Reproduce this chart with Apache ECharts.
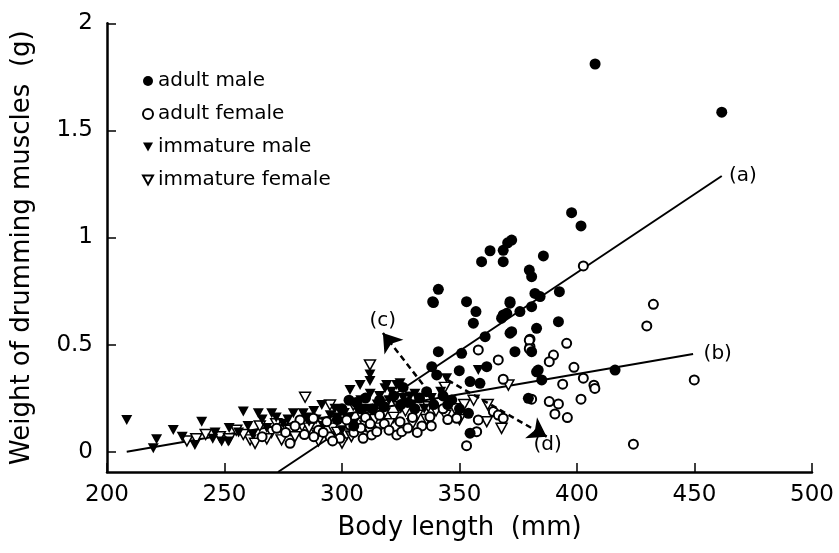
<!DOCTYPE html>
<html>
<head>
<meta charset="utf-8">
<script src="https://cdn.jsdelivr.net/npm/echarts@6/dist/echarts.min.js"></script>
<style>
  html, body { margin: 0; padding: 0; background: #fff; }
  #canvas { width: 839px; height: 553px; }
</style>
</head>
<body>
<div id="canvas"></div>
<script>
// body length (mm), muscle weight (g)
var adultMale = [
    [407.7, 1.81], [461.6, 1.585], [397.7, 1.116], [401.7, 1.054], [372.2, 0.988], [370.5, 0.975],
    [368.6, 0.94], [363, 0.938], [368.6, 0.887], [359.4, 0.887], [385.7, 0.914], [379.7, 0.848],
    [380.7, 0.817], [382.1, 0.739], [384.3, 0.724], [392.5, 0.747], [371.5, 0.70], [370.1, 0.646],
    [375.7, 0.654], [380.7, 0.677], [367.9, 0.623], [392.1, 0.607], [382.8, 0.576], [372.2, 0.56],
    [373.6, 0.467], [380.7, 0.467], [383.5, 0.381], [385, 0.335], [416.2, 0.381], [379.3, 0.249],
    [338.9, 0.696], [357, 0.654], [353, 0.70], [355.9, 0.6], [368.6, 0.638], [371.5, 0.693],
    [341, 0.467], [350.9, 0.459], [360.9, 0.537], [371.5, 0.553], [338.2, 0.397], [349.9, 0.378],
    [361.6, 0.397], [358.7, 0.319], [353.8, 0.179], [354.5, 0.086], [382.8, 0.373], [341, 0.758],
    [338.6, 0.70], [340.3, 0.358], [354.5, 0.327], [346.7, 0.241], [300, 0.2], [303, 0.24],
    [306, 0.23], [310, 0.25], [313, 0.2], [318, 0.21], [322, 0.26], [328, 0.23], [333, 0.25],
    [336, 0.28], [345, 0.22], [350, 0.2], [298, 0.15], [305, 0.12], [326, 0.3], [308, 0.2],
    [316, 0.24], [325, 0.22], [331, 0.2], [339, 0.22], [343, 0.26]
];
var adultFemale = [
    [402.7, 0.867], [432.5, 0.688], [429.7, 0.587], [395.6, 0.506], [380, 0.525], [380, 0.49],
    [390, 0.451], [388.2, 0.42], [398.7, 0.394], [402.7, 0.343], [393.9, 0.315], [407.2, 0.31],
    [407.6, 0.295], [449.9, 0.335], [401.7, 0.245], [388.2, 0.234], [392.1, 0.223], [390.6, 0.176],
    [395.9, 0.159], [380.7, 0.245], [424, 0.035], [368.6, 0.338], [366.5, 0.428], [358, 0.475],
    [379.7, 0.52], [379.7, 0.48], [364.4, 0.187], [366.5, 0.171], [368.6, 0.156], [358, 0.148],
    [357.3, 0.093], [353, 0.028], [348.8, 0.156], [337.4, 0.163], [324.7, 0.14], [323.3, 0.078],
    [325.4, 0.093], [277.9, 0.039], [294.9, 0.07], [299.1, 0.062], [309, 0.062], [312.6, 0.078],
    [314.8, 0.093], [303.4, 0.125], [272.2, 0.109], [282.1, 0.148], [287.8, 0.156], [293.5, 0.14],
    [302, 0.148], [318, 0.13], [330, 0.16], [334, 0.12], [343, 0.2], [290, 0.1], [284, 0.08],
    [266, 0.07], [310, 0.16], [316, 0.17], [276, 0.09], [280, 0.12], [288, 0.07], [292, 0.09],
    [296, 0.05], [305, 0.09], [308, 0.11], [312, 0.13], [320, 0.1], [328, 0.11], [332, 0.09],
    [338, 0.12], [345, 0.15]
];
var immatureMale = [
    [208.4, 0.148], [221.1, 0.058], [228.2, 0.101], [240.3, 0.14], [258, 0.187], [264.4, 0.179],
    [270.1, 0.179], [279.3, 0.179], [283.5, 0.179], [219.7, 0.016], [237.4, 0.031], [248.8, 0.047],
    [251.6, 0.047], [291.4, 0.218], [303.4, 0.288], [318.3, 0.296], [323.3, 0.311], [311.9, 0.36],
    [311.9, 0.33], [307.7, 0.311], [319, 0.311], [324.7, 0.319], [328.9, 0.257], [344.5, 0.343],
    [358, 0.381], [286, 0.14], [292, 0.12], [298, 0.16], [300, 0.10], [305, 0.13], [310, 0.2],
    [315, 0.22], [320, 0.24], [325, 0.2], [330, 0.22], [335, 0.2], [295, 0.17], [288, 0.19],
    [275, 0.13], [268, 0.11], [262, 0.08], [256, 0.09], [245, 0.06], [232, 0.07], [246, 0.09],
    [252, 0.11], [260, 0.12], [266, 0.15], [272, 0.16], [277, 0.15], [281, 0.12], [285, 0.16],
    [289, 0.15], [293, 0.14], [297, 0.2], [301, 0.18], [303, 0.16], [308, 0.24], [312, 0.27],
    [316, 0.26], [321, 0.28], [326, 0.25], [331, 0.27], [338, 0.25], [342, 0.28]
];
var immatureFemale = [
    [284.3, 0.254], [311.9, 0.405], [260.9, 0.055], [274.3, 0.055], [294.9, 0.218], [367.9, 0.109],
    [370.8, 0.311], [343.8, 0.30], [336.7, 0.21], [361.6, 0.14], [263, 0.039], [289.2, 0.086],
    [302, 0.078], [304.8, 0.218], [307.7, 0.179], [248, 0.07], [255, 0.1], [265, 0.12], [270, 0.09],
    [278, 0.1], [283, 0.12], [290, 0.05], [296, 0.11], [300, 0.04], [306, 0.1], [310, 0.12],
    [314, 0.15], [318, 0.18], [322, 0.16], [327, 0.19], [332, 0.17], [340, 0.19], [348, 0.2],
    [352, 0.22], [356, 0.24], [362, 0.22], [234, 0.05], [242, 0.08], [238, 0.06], [252, 0.06],
    [258, 0.08], [268, 0.06], [272, 0.13], [280, 0.07], [286, 0.11], [292, 0.13], [298, 0.09],
    [304, 0.07], [312, 0.09], [316, 0.11], [320, 0.13], [324, 0.21], [330, 0.13], [336, 0.15],
    [344, 0.17], [350, 0.15]
];
// regression lines (a) and (b)
var lineA = [[272.8, -0.095], [461.6, 1.287]];
var lineB = [[208.4, 0], [449.4, 0.456]];
// dashed arrows (c) and (d): [from, to]
var arrowC = [[339.6, 0.241], [317.4, 0.554]];
var arrowD = [[345, 0.334], [387.1, 0.07]];
var notes = [[470.8, 1.284, '(a)'], [460.1, 0.456, '(b)'], [317.6, 0.607, '(c)'], [387.7, 0.031, '(d)']];
var yTicks = [0, 0.5, 1, 1.5, 2];

var FONT = 'DejaVu Sans';
var downTri = 'path://M0,0 L10,0 L5,9 Z';

var myChart = echarts.init(document.getElementById('canvas'));

var option = {
    backgroundColor: '#fff',
    animation: false,
    textStyle: { fontFamily: FONT, color: '#000' },
    grid: { left: 107, right: 27, top: 23.3, bottom: 81 },
    legend: {
        data: ['adult male', 'adult female', 'immature male', 'immature female'],
        orient: 'vertical',
        left: 137,
        top: 66,
        itemWidth: 10,
        itemHeight: 10,
        itemGap: 13,
        textStyle: { fontFamily: FONT, fontSize: 20, color: '#000' }
    },
    xAxis: {
        type: 'value',
        min: 200,
        max: 500,
        interval: 50,
        name: 'Body length  (mm)',
        nameLocation: 'middle',
        nameGap: 43,
        nameTextStyle: { fontFamily: FONT, fontSize: 26, color: '#000' },
        axisLine: { onZero: false, lineStyle: { color: '#000', width: 2.5 } },
        axisTick: { inside: true, length: 9, lineStyle: { color: '#000', width: 1.5 } },
        axisLabel: { fontFamily: FONT, fontSize: 23, color: '#000', margin: 12 },
        splitLine: { show: false }
    },
    yAxis: {
        type: 'value',
        min: -0.095,
        max: 2,
        name: 'Weight of drumming muscles  (g)',
        nameLocation: 'middle',
        nameGap: 72,
        nameRotate: 90,
        nameTextStyle: { fontFamily: FONT, fontSize: 26, color: '#000' },
        axisLine: { onZero: false, lineStyle: { color: '#000', width: 2.5 } },
        axisTick: { inside: true, length: 9, customValues: yTicks, lineStyle: { color: '#000', width: 1.5 } },
        axisLabel: { fontFamily: FONT, fontSize: 23, color: '#000', margin: 14, customValues: yTicks },
        splitLine: { show: false }
    },
    series: [
        {
            name: 'line a', type: 'line', data: lineA, symbol: 'none', silent: true,
            lineStyle: { color: '#000', width: 2 }, z: 1
        },
        {
            name: 'line b', type: 'line', data: lineB, symbol: 'none', silent: true,
            lineStyle: { color: '#000', width: 2 }, z: 1
        },
        {
            name: 'immature female', type: 'scatter', data: immatureFemale,
            symbol: downTri, symbolSize: [11, 10],
            itemStyle: { color: '#fff', borderColor: '#000', borderWidth: 1.5, opacity: 1 }, z: 2
        },
        {
            name: 'immature male', type: 'scatter', data: immatureMale,
            symbol: downTri, symbolSize: [11, 10],
            itemStyle: { color: '#000', opacity: 1 }, z: 3
        },
        {
            name: 'adult female', type: 'scatter', data: adultFemale,
            symbol: 'circle', symbolSize: 9,
            itemStyle: { color: '#fff', borderColor: '#000', borderWidth: 2, opacity: 1 }, z: 4
        },
        {
            name: 'adult male', type: 'scatter', data: adultMale,
            symbol: 'circle', symbolSize: 11,
            itemStyle: { color: '#000', opacity: 1 }, z: 5
        },
        {
            name: 'arrows', type: 'lines', coordinateSystem: 'cartesian2d', silent: true,
            symbol: ['none', 'arrow'], symbolSize: 18,
            lineStyle: { color: '#000', width: 2.5, type: [6, 4], opacity: 1 },
            data: [{ coords: arrowC }, { coords: arrowD }],
            z: 6
        },
        {
            name: 'notes', type: 'scatter', data: notes, symbolSize: 1, silent: true,
            itemStyle: { color: '#fff', opacity: 0 },
            label: {
                show: true, position: [0, 0], align: 'center', verticalAlign: 'middle',
                fontFamily: FONT, fontSize: 20, color: '#000', opacity: 1,
                formatter: function (p) { return p.data[2]; }
            },
            z: 7
        }
    ]
};

myChart.setOption(option);
</script>
</body>
</html>
